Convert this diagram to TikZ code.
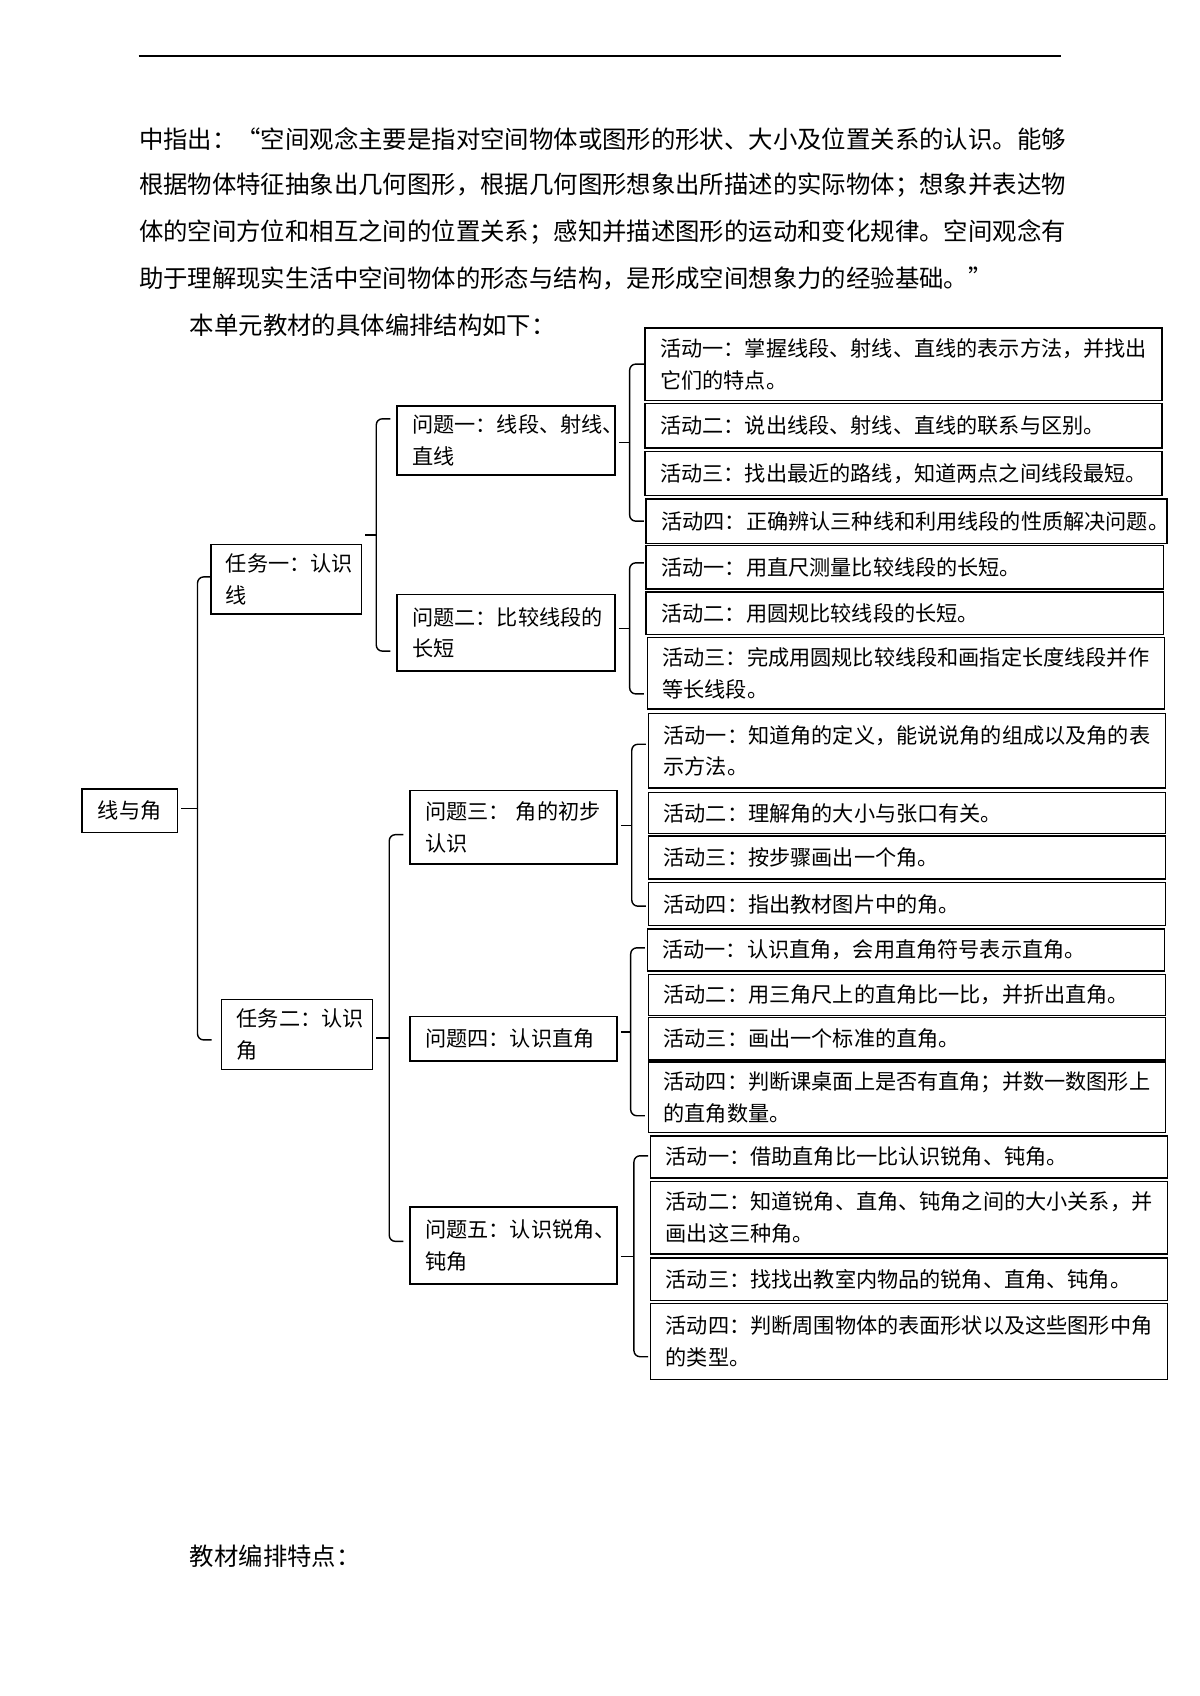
\documentclass[tikz,border=0pt]{standalone}
\usepackage{fontspec}
\setmainfont{Noto Sans CJK SC}
\usetikzlibrary{calc}

\def\pxu{0.5373pt}
\newcommand\txtbody{\fontsize{12.1pt}{23pt}\selectfont}
\newcommand\txtbox{\fontsize{10.5pt}{15.7pt}\selectfont}

% brace: parent, first child, last child, gap, shift of top end, shift of bottom end
\newcommand\brc[6]{%
  \path (#1.east) ++(3,0) coordinate (tp) ++(#4-3,0) coordinate (bx) ++(13,0) coordinate (ex);
  \path ($(#2.west)+(0,#5)$) coordinate (bt) ($(#3.west)+(0,#6)$) coordinate (bb)
        ($(bt)!0.5!(bb)$) coordinate (md);
  \draw[brcline] (ex |- bt) -| (bx |- md) |- (ex |- bb);
  \draw[brcline] (tp |- md) -- (bx |- md);
}

\begin{document}
\begin{tikzpicture}[x=\pxu, y=-\pxu,
  para/.style={font=\txtbody, inner sep=0pt, anchor=west},
  cell/.style={draw, line width=0.75pt, anchor=north west, align=left,
               inner xsep=7.5pt, inner ysep=1pt, font=\txtbox, minimum height=#1*\pxu},
  act/.style={cell=#1, text width=241.5pt},
  qa/.style={cell=#1, text width=93pt},
  qb/.style={cell=#1, text width=87.6pt},
  tk/.style={cell=#1, text width=59.7pt},
  brcline/.style={line width=0.7pt, rounded corners=3pt}]
\useasboundingbox (0,0) rectangle (1108,1566);

\draw[line width=0.9pt] (128,52) -- (980,52);   % header rule

% text of the page
\node[para] (p1) at (128,128) {中指出：“空间观念主要是指对空间物体或图形的形状、大小及位置关系的认识。能够};
\node[para] (p2) at (128,171) {根据物体特征抽象出几何图形，根据几何图形想象出所描述的实际物体；想象并表达物};
\node[para] (p3) at (128,214) {体的空间方位和相互之间的位置关系；感知并描述图形的运动和变化规律。空间观念有};
\node[para] (p4) at (128,257) {助于理解现实生活中空间物体的形态与结构，是形成空间想象力的经验基础。”};
\node[para] (p5) at (175,300) {本单元教材的具体编排结构如下：};
\node[para] (p6) at (175,1437) {教材编排特点：};

% unit, tasks, questions
\node[cell=40, align=center, minimum width=88*\pxu] (xj) at (75,728) {线与角};
\node[tk=64] (rw1) at (194,502) {任务一：认识\\线};
\node[tk=65] (rw2) at (204,922) {任务二：认识\\角};
\node[qa=64] (wt1) at (366,374) {问题一：线段、射线、\\直线};
\node[qa=71] (wt2) at (366,548) {问题二：比较线段的\\长短};
\node[qb=68] (wt3) at (378,729) {\mbox{问题三：\hspace{3pt}角的初步}\\认识};
\node[qb=41] (wt4) at (378,938) {问题四：认识直角};
\node[qb=71] (wt5) at (378,1114) {问题五：认识锐角、\\钝角};

% activities
\node[act=67] (hd11) at (595,302) {活动一：掌握线段、射线、直线的表示方法，并找出\\它们的特点。};
\node[act=41] (hd12) at (595,372) {活动二：说出线段、射线、直线的联系与区别。};
\node[act=41] (hd13) at (595,416) {活动三：找出最近的路线，知道两点之间线段最短。};
\node[act=41, text width=243.4pt] (hd14) at (596,460) {活动四：正确辨认三种线和利用线段的性质解决问题。};
\node[act=40] (hd21) at (596,503) {活动一：用直尺测量比较线段的长短。};
\node[act=39] (hd22) at (596,546) {活动二：用圆规比较线段的长短。};
\node[act=66] (hd23) at (597,588) {活动三：完成用圆规比较线段和画指定长度线段并作\\等长线段。};
\node[act=69] (hd31) at (598,658) {活动一：知道角的定义，能说说角的组成以及角的表\\示方法。};
\node[act=38] (hd32) at (598,731) {活动二：理解角的大小与张口有关。};
\node[act=40] (hd33) at (598,771) {活动三：按步骤画出一个角。};
\node[act=40] (hd34) at (598,814) {活动四：指出教材图片中的角。};
\node[act=39] (hd41) at (597,857) {活动一：认识直角，会用直角符号表示直角。};
\node[act=38] (hd42) at (598,899) {活动二：用三角尺上的直角比一比，并折出直角。};
\node[act=39] (hd43) at (598,939) {活动三：画出一个标准的直角。};
\node[act=65] (hd44) at (598,980) {活动四：判断课桌面上是否有直角；并数一数图形上\\的直角数量。};
\node[act=39] (hd51) at (600,1048) {活动一：借助直角比一比认识锐角、钝角。};
\node[act=67] (hd52) at (600,1090) {活动二：知道锐角、直角、钝角之间的大小关系，并\\画出这三种角。};
\node[act=39] (hd53) at (600,1161) {活动三：找找出教室内物品的锐角、直角、钝角。};
\node[act=70] (hd54) at (600,1203) {活动四：判断周围物体的表面形状以及这些图形中角\\的类型。};

% braces
\brc{xj}{rw1}{rw2}{18}{-2}{5}
\brc{rw1}{wt1}{wt2}{13}{-20}{17}
\brc{rw2}{wt3}{wt5}{15}{7}{-4}
\brc{wt1}{hd11}{hd14}{13}{0}{0}
\brc{wt2}{hd21}{hd23}{13}{-4}{19}
\brc{wt3}{hd31}{hd34}{13}{-6}{2}
\brc{wt4}{hd41}{hd44}{12}{-2}{17}
\brc{wt5}{hd51}{hd54}{15}{-1}{14}
\end{tikzpicture}
\end{document}
